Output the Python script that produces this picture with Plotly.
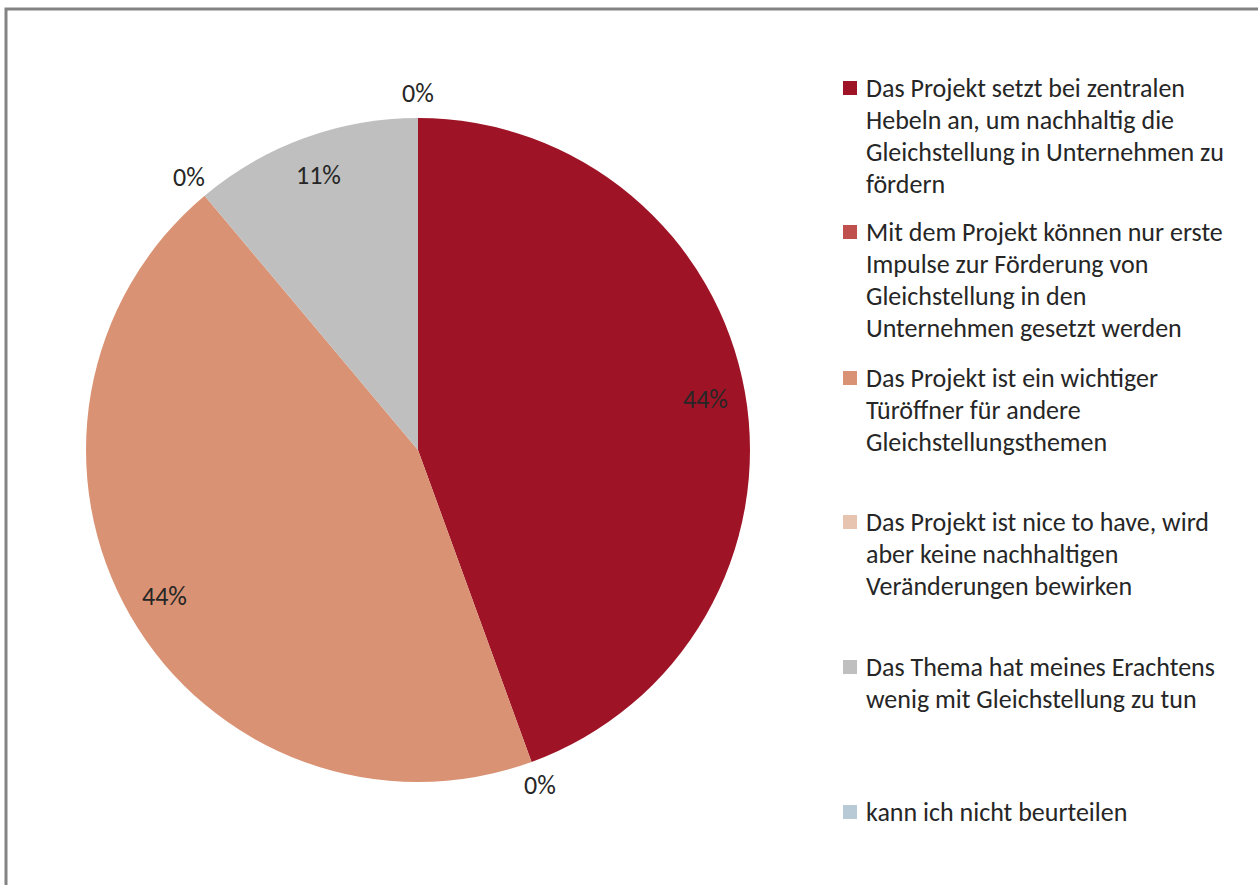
import math
import plotly.graph_objs as go

labels = [
    "Das Projekt setzt bei zentralen<br>Hebeln an, um nachhaltig die<br>Gleichstellung in Unternehmen zu<br>fördern",
    "Mit dem Projekt können nur erste<br>Impulse zur Förderung von<br>Gleichstellung in den<br>Unternehmen gesetzt werden",
    "Das Projekt ist ein wichtiger<br>Türöffner für andere<br>Gleichstellungsthemen",
    "Das Projekt ist nice to have, wird<br>aber keine nachhaltigen<br>Veränderungen bewirken",
    "Das Thema hat meines Erachtens<br>wenig mit Gleichstellung zu tun",
    "kann ich nicht beurteilen",
]
values = [4, 0, 4, 0, 1, 0]
colors = ["#9E1426", "#C0504D", "#D99273", "#E6C4B0", "#BFBFBF", "#B7CAD6"]

W, H = 1258, 885
cx, cy, r = 418, 450, 332
font = "Carlito, Lato, sans-serif"
text_color = "#262626"


def px(x):
    return x / W


def py(y):
    return 1 - y / H


fig = go.Figure(
    data=[go.Pie(
        labels=[l.replace("<br>", " ") for l in labels],
        values=values,
        sort=False,
        direction="clockwise",
        rotation=0,
        marker=dict(colors=colors, line=dict(width=0)),
        textinfo="none",
        hoverinfo="label+percent",
        showlegend=False,
        domain=dict(x=[px(cx - r), px(cx + r)], y=[py(cy + r), py(cy - r)]),
    )],
    layout=go.Layout(
        width=W, height=H,
        margin=dict(l=0, r=0, t=0, b=0),
        paper_bgcolor="white",
        plot_bgcolor="white",
        font=dict(family=font, color=text_color),
    )
)

# percentage labels around the slices
total = sum(values)
cum = 0
for v in values:
    mid = (cum + v / 2) / total * 2 * math.pi
    cum += v
    k = 0.88 if v > 0 else 1.075
    fig.add_annotation(
        x=px(cx + k * r * math.sin(mid)),
        y=py(cy - k * r * math.cos(mid)),
        xref="paper", yref="paper",
        xanchor="center", yanchor="middle",
        text=f"{round(v / total * 100)}%",
        showarrow=False,
        font=dict(size=26, family=font, color=text_color),
    )

# legend drawn by hand so the lines and items keep the original spacing
item_top = [88, 232, 378, 522, 667, 812]
line_gap = 32
for i, lab in enumerate(labels):
    y0 = item_top[i]
    fig.add_shape(
        type="rect", xref="paper", yref="paper",
        x0=px(843), x1=px(857), y0=py(y0 + 7), y1=py(y0 - 7),
        fillcolor=colors[i], line=dict(width=0),
    )
    for j, line in enumerate(lab.split("<br>")):
        fig.add_annotation(
            x=px(864), y=py(y0 + j * line_gap),
            xref="paper", yref="paper",
            xanchor="left", yanchor="middle",
            text=line, showarrow=False,
            font=dict(size=26, family=font, color=text_color),
        )

# chart frame
fig.add_shape(
    type="rect", xref="paper", yref="paper",
    x0=px(6), x1=1.02, y0=-0.02, y1=py(9),
    line=dict(color="#838383", width=3),
)

fig.write_html("out.html", config=dict(displayModeBar=False),
               post_script="document.body.style.margin='0';")
